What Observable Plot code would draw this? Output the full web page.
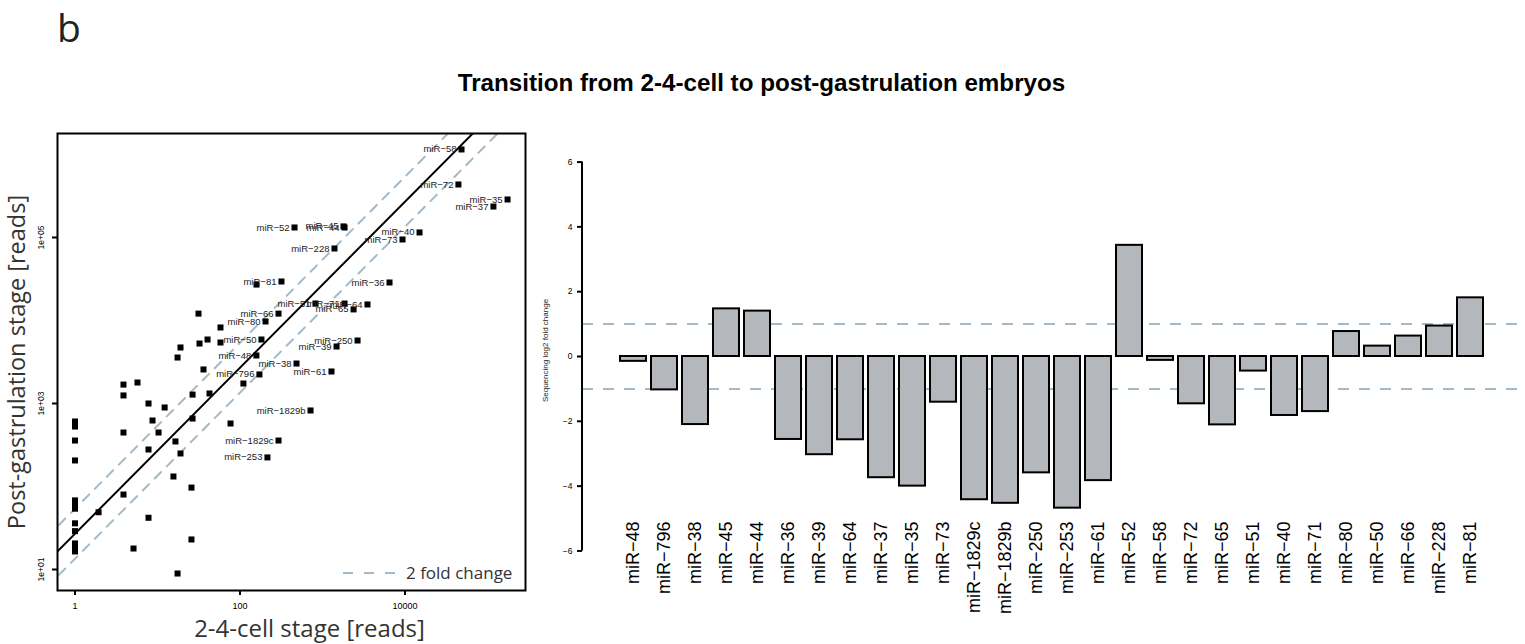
<!DOCTYPE html>
<html>
<head>
<meta charset="utf-8">
<script src="https://cdn.jsdelivr.net/npm/d3@7"></script>
<script src="https://cdn.jsdelivr.net/npm/@observablehq/plot@0.6"></script>
<style>
  body { margin: 0; background: #fff; }
  #wrap { position: relative; width: 1525px; height: 644px; overflow: hidden; background: #fff; }
  #wrap > * { position: absolute; }
  #header { left: 0; top: 0; }
  #scatter { left: 0; top: 0; }
  #bars { left: 540px; top: 0; }
  #legend { left: 343px; top: 558px; }
</style>
</head>
<body>
<div id="wrap">
  <div id="scatter"></div>
  <div id="bars"></div>
  <svg id="header" width="1525" height="110">
    <text x="57" y="42" font-family="Open Sans" font-size="39" fill="#222">b</text>
    <text id="title" x="761.5" y="91" text-anchor="middle" font-family="Liberation Sans, Arial" font-weight="bold" font-size="24.2" fill="#000"></text>
  </svg>
  <svg id="legend" width="178" height="30">
    <line x1="0" x2="52" y1="15" y2="15" stroke="#a3bacb" stroke-width="2" stroke-dasharray="10,11"></line>
    <text id="legendText" x="63" y="21" font-family="Open Sans" font-size="17" fill="#333"></text>
  </svg>
</div>
<script>
// ---------- text ----------
const titleText = "Transition from 2-4-cell to post-gastrulation embryos";
const legendLabel = "2 fold change";
const scatterXLabel = "2-4-cell stage [reads]";
const scatterYLabel = "Post-gastrulation stage [reads]";
const barYLabel = "Sequencing log2 fold change";

// ---------- scatter: labelled miRNAs ----------
const scatterNames = ["miR-58","miR-72","miR-35","miR-37","miR-52","miR-44","miR-45","miR-40","miR-73","miR-228",
  "miR-81","miR-36","miR-51","miR-71","miR-65","miR-64","miR-66","miR-80","miR-50","miR-250",
  "miR-39","miR-48","miR-38","miR-61","miR-796","miR-1829b","miR-1829c","miR-253"];
const scatterX = [48400, 44400, 175000, 118000, 458, 1850, 1797, 15000, 9330, 1397,
  318, 6490, 822, 1850, 2380, 3510, 293, 204, 182, 2660,
  1480, 158, 484, 1285, 172, 716, 293, 215];
const scatterY = [1150000, 435000, 287000, 236000, 132000, 132000, 136000, 115000, 94600, 73700,
  29500, 28700, 16000, 16000, 13600, 15600, 12100, 9730, 5900, 5740,
  4860, 3790, 3030, 2430, 2240, 824, 358, 224];

// ---------- scatter: unlabelled miRNAs ----------
const otherX = [31.4, 58, 40.4, 32.3, 58, 19, 17.5, 158.5, 36.1, 110,
  26.6, 42.7, 5.72, 3.87, 3.87, 7.78, 12.2, 8.7, 26.6, 10.3,
  3.87, 76.8, 16.5, 7.78, 19, 15.6, 25.8, 3.87, 1.93, 7.78,
  25.8, 5.12, 17.5,
  1, 1, 1, 1, 1, 1, 1, 1, 1, 1, 1, 1];
const otherY = [12100, 8240, 5900, 5280, 5430, 4730, 3580, 27100, 2570, 1740,
  1280, 1320, 1790, 1690, 1250, 1000, 895, 624, 659, 447,
  447, 574, 349, 279, 250, 132, 97, 80, 49, 42,
  23, 17.9, 8.95,
  607, 528, 358, 206, 68, 61, 54, 36, 29, 20.6, 18.9, 16.5];

const xTicks = [1, 100, 10000];
const xTickLabels = ["1", "100", "10000"];
const yTicks = [10, 1000, 100000];
const yTickLabels = ["1e+01", "1e+03", "1e+05"];
const xDomain = [0.6135, 288800];
const yDomain = [5.585, 1790000];
const readRatio = 27;            // post/pre normalisation (solid line)
const foldFactors = [0.5, 2];    // 2 fold change lines

// ---------- bar chart ----------
const barNames = ["miR-48","miR-796","miR-38","miR-45","miR-44","miR-36","miR-39","miR-64","miR-37","miR-35",
  "miR-73","miR-1829c","miR-1829b","miR-250","miR-253","miR-61","miR-52","miR-58","miR-72","miR-65",
  "miR-51","miR-40","miR-71","miR-80","miR-50","miR-66","miR-228","miR-81"];
const barValues = [-0.15, -1.03, -2.1, 1.47, 1.40, -2.56, -3.03, -2.57, -3.74, -4.0,
  -1.41, -4.42, -4.53, -3.59, -4.68, -3.83, 3.43, -0.12, -1.46, -2.11,
  -0.45, -1.82, -1.70, 0.77, 0.32, 0.63, 0.94, 1.81];
const barTicks = [-6, -4, -2, 0, 2, 4, 6];
const thresholds = [-1, 1];

const minus = s => s.replace("-", "\u2212");
const dashColor = "#a3bacb";

document.getElementById("title").textContent = titleText;
document.getElementById("legendText").textContent = legendLabel;

// ---------- scatter plot ----------
const labelled = scatterNames.map((name, i) => ({name, x: scatterX[i], y: scatterY[i]}));
const others = otherX.map((x, i) => ({x, y: otherY[i]}));
const lineEnds = [xDomain[0] / 10, xDomain[1] * 10];
const refLine = f => lineEnds.map(x => ({x, y: x * readRatio * f}));

const scatter = Plot.plot({
  width: 545, height: 644,
  marginLeft: 57, marginRight: 20, marginTop: 133, marginBottom: 54,
  style: {fontFamily: "Liberation Sans, Arial, sans-serif", background: "transparent", overflow: "visible"},
  x: {type: "log", domain: xDomain},
  y: {type: "log", domain: yDomain},
  marks: [
    ...foldFactors.map(f => Plot.line(refLine(f), {x: "x", y: "y", stroke: dashColor, strokeWidth: 2, strokeDasharray: "9,8", clip: true})),
    Plot.line(refLine(1), {x: "x", y: "y", stroke: "#000", strokeWidth: 2, clip: true}),
    Plot.dot(others, {x: "x", y: "y", symbol: "square", r: 3.4, fill: "#000"}),
    Plot.dot(labelled, {x: "x", y: "y", symbol: "square", r: 3.4, fill: "#000"}),
    Plot.text(labelled, {x: "x", y: "y", text: d => minus(d.name), textAnchor: "end", dx: -5, fontSize: 9.5, fill: "#222"}),
    Plot.frame({stroke: "#000", strokeWidth: 2}),
    Plot.axisX({ticks: xTicks, tickFormat: d => xTickLabels[xTicks.indexOf(d)], tickSize: 5, tickPadding: 7, lineAnchor: "top", fontSize: 9, strokeWidth: 2, label: null}),
    Plot.axisY({ticks: yTicks, tickFormat: d => yTickLabels[yTicks.indexOf(d)], tickSize: 5, tickPadding: 8.5, tickRotate: -90, textAnchor: "middle", lineAnchor: "bottom", fontSize: 8.5, strokeWidth: 2, label: null}),
    Plot.text([scatterXLabel], {frameAnchor: "bottom", dy: 39, dx: 18, fontSize: 24, fontFamily: "Open Sans", fill: "#333", textAnchor: "middle", lineAnchor: "middle"}),
    Plot.text([scatterYLabel], {frameAnchor: "left", dx: -40, rotate: -90, fontSize: 23.5, fontFamily: "Open Sans", fill: "#333", textAnchor: "middle", lineAnchor: "middle"})
  ]
});
document.getElementById("scatter").append(scatter);

// ---------- bar chart ----------
const bars = barNames.map((name, i) => ({name, value: barValues[i]}));
function yAxisLine(index, scales, values, dims) {
  const l = document.createElementNS("http://www.w3.org/2000/svg", "line");
  l.setAttribute("x1", dims.marginLeft);
  l.setAttribute("x2", dims.marginLeft);
  l.setAttribute("y1", scales.y(barTicks[0]));
  l.setAttribute("y2", scales.y(barTicks[barTicks.length - 1]));
  l.setAttribute("stroke", "#000");
  l.setAttribute("stroke-width", 2);
  return l;
}
const barPlot = Plot.plot({
  width: 985, height: 644,
  marginLeft: 42, marginRight: 5, marginTop: 146, marginBottom: 78,
  style: {fontFamily: "Liberation Sans, Arial, sans-serif", background: "transparent", overflow: "visible"},
  x: {type: "band", domain: barNames, range: [72.8, 950.2], padding: 0.167},
  y: {domain: [-6.48, 6.48]},
  marks: [
    Plot.ruleY(thresholds, {stroke: dashColor, strokeWidth: 2, strokeDasharray: "11,10"}),
    Plot.barY(bars, {x: "name", y: "value", fill: "#b4b8bc", stroke: "#000", strokeWidth: 2}),
    yAxisLine,
    Plot.axisY({ticks: barTicks, tickSize: 5, tickPadding: 5, fontSize: 8.5, strokeWidth: 2, label: null}),
    Plot.axisX({tickSize: 0, tickPadding: -45, tickRotate: -90, textAnchor: "end", lineAnchor: "middle", tickFormat: minus, fontSize: 18, fill: "#000", label: null}),
    Plot.text([barYLabel], {frameAnchor: "left", dx: -37, dy: -6, rotate: -90, fontSize: 8, fill: "#222", textAnchor: "middle"})
  ]
});
document.getElementById("bars").append(barPlot);
</script>
</body>
</html>
